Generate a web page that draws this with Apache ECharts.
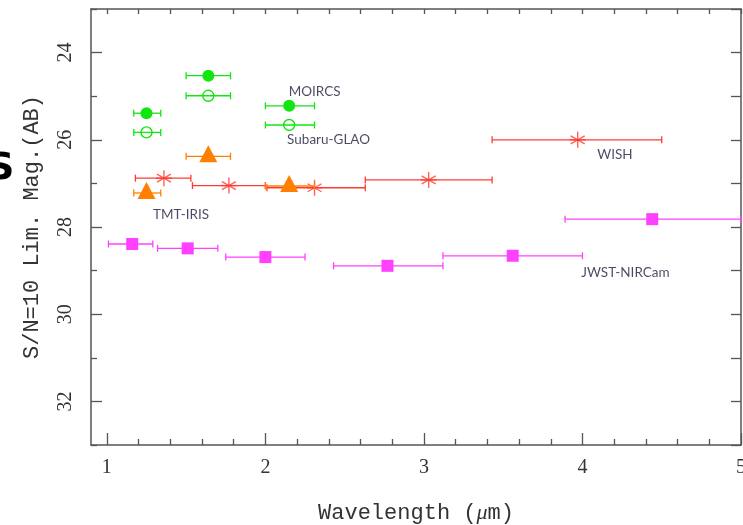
<!DOCTYPE html>
<html>
<head>
<meta charset="utf-8">
<script src="https://cdn.jsdelivr.net/npm/echarts@6/dist/echarts.min.js"></script>
<style>
  html, body { margin: 0; padding: 0; background: #fff; }
  #chart { width: 743px; height: 525px; }
</style>
</head>
<body>
<div id="chart"></div>
<script>
// tick labels
var xTicks = [1, 2, 3, 4, 5]
var yTicks = [24, 26, 28, 30, 32]

// MOIRCS (filled) / Subaru-GLAO (open)
var nearIrX = [1.25, 1.64, 2.15]
var nearIrLo = [1.17, 1.50, 2.00]
var nearIrHi = [1.34, 1.78, 2.31]
var moircsY = [25.39, 24.53, 25.22]
var glaoY = [25.83, 24.99, 25.66]
// TMT-IRIS
var irisY = [27.22, 26.38, 27.06]
// WISH
var wishX = [1.36, 1.77, 2.31, 3.03, 3.97]
var wishLo = [1.18, 1.54, 2.01, 2.63, 3.43]
var wishHi = [1.53, 2.00, 2.63, 3.43, 4.50]
var wishY = [26.88, 27.05, 27.10, 26.92, 26.00]
// JWST-NIRCam
var jwstX = [1.16, 1.51, 2.00, 2.77, 3.56, 4.44]
var jwstLo = [1.01, 1.32, 1.75, 2.43, 3.12, 3.89]
var jwstHi = [1.29, 1.70, 2.25, 3.12, 4.00, 5.00]
var jwstY = [28.39, 28.49, 28.69, 28.89, 28.66, 27.82]

// text labels
var labelText = ['MOIRCS', 'Subaru-GLAO', 'WISH', 'TMT-IRIS', 'JWST-NIRCam']
var labelX = [2.147, 2.137, 4.093, 1.291, 3.992]
var labelY = [24.89, 26.0, 26.35, 27.72, 29.05]

function rows (xs, ys, lo, hi) {
  return xs.map(function (x, i) { return [x, ys[i], lo[i], hi[i]] })
}

// 刻度（次刻度）
var xMinor = []
var yMinor = []
for (var t = 1; t < 5; t += 0.2) {
  var v = Math.round(t * 10) / 10
  if (xTicks.indexOf(v) < 0) xMinor.push(v)
}
for (var k = 23; k <= 33; k++) {
  if (yTicks.indexOf(k) < 0) yMinor.push(k)
}
var xAll = xTicks.concat(xMinor)
var yAll = yTicks.concat(yMinor)

function marker (type, c, color) {
  var x = c[0]
  var y = c[1]
  if (type === 'circle') {
    return { type: 'circle', shape: { cx: x, cy: y, r: 6 }, style: { fill: color } }
  }
  if (type === 'ring') {
    return { type: 'circle', shape: { cx: x, cy: y, r: 5.5 }, style: { fill: 'none', stroke: color, lineWidth: 1.4 } }
  }
  if (type === 'triangle') {
    return { type: 'polygon', shape: { points: [[x, y - 11], [x - 9, y + 6], [x + 9, y + 6]] }, style: { fill: color } }
  }
  if (type === 'square') {
    return { type: 'rect', shape: { x: x - 6, y: y - 6, width: 12, height: 12 }, style: { fill: color } }
  }
  // asterisk
  var st = { stroke: color, lineWidth: 1.4, opacity: 0.8 }
  return {
    type: 'group',
    children: [
      { type: 'line', shape: { x1: x, y1: y - 8, x2: x, y2: y + 8 }, style: st },
      { type: 'line', shape: { x1: x - 7, y1: y - 4, x2: x + 7, y2: y + 4 }, style: st },
      { type: 'line', shape: { x1: x - 7, y1: y + 4, x2: x + 7, y2: y - 4 }, style: st },
      { type: 'line', shape: { x1: x - 8, y1: y, x2: x + 8, y2: y }, style: st }
    ]
  }
}

function errSeries (name, data, type, color) {
  return {
    name: name,
    type: 'custom',
    xAxisIndex: 0,
    yAxisIndex: 0,
    encode: { x: 0, y: 1 },
    data: data,
    renderItem: function (params, api) {
      var c = api.coord([api.value(0), api.value(1)])
      var lo = api.coord([api.value(2), api.value(1)])
      var hi = api.coord([api.value(3), api.value(1)])
      var st = { stroke: color, lineWidth: 1.3 }
      return {
        type: 'group',
        children: [
          { type: 'line', shape: { x1: lo[0], y1: c[1], x2: hi[0], y2: c[1] }, style: st },
          { type: 'line', shape: { x1: lo[0], y1: c[1] - 3.5, x2: lo[0], y2: c[1] + 3.5 }, style: st },
          { type: 'line', shape: { x1: hi[0], y1: c[1] - 3.5, x2: hi[0], y2: c[1] + 3.5 }, style: st },
          marker(type, c, color)
        ]
      }
    }
  }
}

var frame = '#555'
var tickFont = { fontFamily: 'Liberation Serif', fontSize: 20, color: '#333' }

var chart = echarts.init(document.getElementById('chart'))
chart.setOption({
  animation: false,
  grid: { left: 91, right: 2, top: 9, bottom: 80, outerBoundsMode: 'none' },
  graphic: [{
    type: 'text',
    left: -13,
    top: 150,
    style: { text: 'S', font: 'bold 38px "DejaVu Sans"', fill: '#000' }
  }],
  xAxis: [
    {
      type: 'value', min: 0.9, max: 5, position: 'bottom',
      name: '{n|Wavelength (}{i|μ}{n|m)}',
      nameLocation: 'middle',
      nameGap: 57,
      nameTextStyle: {
        rich: {
          n: { fontFamily: 'Liberation Mono', fontSize: 22, color: '#333' },
          i: { fontFamily: 'Liberation Serif', fontStyle: 'italic', fontSize: 22, color: '#333' }
        }
      },
      axisLine: { show: true, lineStyle: { color: frame, width: 1.5 } },
      axisTick: { show: true, inside: true, length: 12, customValues: xTicks, lineStyle: { color: frame, width: 1.3 } },
      axisLabel: Object.assign({ customValues: xTicks, margin: 13 }, tickFont),
      splitLine: { show: false }
    },
    {
      type: 'value', min: 0.9, max: 5, position: 'bottom',
      axisLine: { show: false },
      axisTick: { show: true, inside: true, length: 6, customValues: xMinor, lineStyle: { color: frame, width: 1.3 } },
      axisLabel: { show: false },
      splitLine: { show: false }
    },
    {
      type: 'value', min: 0.9, max: 5, position: 'top',
      axisLine: { show: true, lineStyle: { color: frame, width: 1.5 } },
      axisTick: { show: true, inside: true, length: 5, customValues: xAll, lineStyle: { color: frame, width: 1.3 } },
      axisLabel: { show: false },
      splitLine: { show: false }
    }
  ],
  yAxis: [
    {
      type: 'value', min: 23, max: 33, inverse: true, position: 'left',
      name: 'S/N=10 Lim. Mag.(AB)',
      nameLocation: 'middle',
      nameGap: 48,
      nameTextStyle: { fontFamily: 'Liberation Mono', fontSize: 22, color: '#333' },
      axisLine: { show: true, lineStyle: { color: frame, width: 1.5 } },
      axisTick: { show: true, inside: true, length: 11, customValues: yTicks, lineStyle: { color: frame, width: 1.3 } },
      axisLabel: Object.assign({ customValues: yTicks, rotate: 90, margin: 15 }, tickFont),
      splitLine: { show: false }
    },
    {
      type: 'value', min: 23, max: 33, inverse: true, position: 'left',
      axisLine: { show: false },
      axisTick: { show: true, inside: true, length: 6, customValues: yMinor, lineStyle: { color: frame, width: 1.3 } },
      axisLabel: { show: false },
      splitLine: { show: false }
    },
    {
      type: 'value', min: 23, max: 33, inverse: true, position: 'right',
      axisLine: { show: true, lineStyle: { color: frame, width: 1.5 } },
      axisTick: { show: true, inside: true, length: 10, customValues: yAll, lineStyle: { color: frame, width: 1.3 } },
      axisLabel: { show: false },
      splitLine: { show: false }
    }
  ],
  series: [
    errSeries('WISH', rows(wishX, wishY, wishLo, wishHi), 'asterisk', '#ff3b2f'),
    errSeries('JWST-NIRCam', rows(jwstX, jwstY, jwstLo, jwstHi), 'square', '#ff40ff'),
    errSeries('MOIRCS', rows(nearIrX, moircsY, nearIrLo, nearIrHi), 'circle', '#11e611'),
    errSeries('Subaru-GLAO', rows(nearIrX, glaoY, nearIrLo, nearIrHi), 'ring', '#11e611'),
    errSeries('TMT-IRIS', rows(nearIrX, irisY, nearIrLo, nearIrHi), 'triangle', '#ff8000'),
    {
      type: 'scatter',
      symbolSize: 0,
      data: labelText.map(function (s, i) { return { name: s, value: [labelX[i], labelY[i]] } }),
      label: {
        show: true,
        position: 'right',
        distance: 0,
        formatter: '{b}',
        fontFamily: 'Lato',
        fontSize: 13.5,
        color: '#1c1c3c'
      },
      silent: true
    }
  ]
})
</script>
</body>
</html>
